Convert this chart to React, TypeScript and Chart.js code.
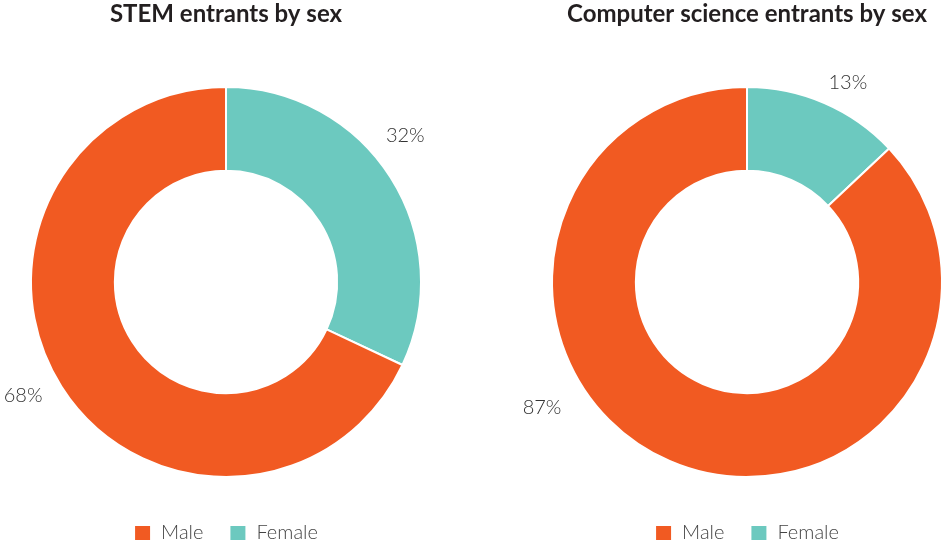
import React, { useEffect, useRef } from "react";
import { Chart, registerables } from "chart.js";

Chart.register(...registerables);

const categories = ["Female", "Male"];
const stemValues = [32, 68];
const csValues = [13, 87];
const titles = ["STEM entrants by sex", "Computer science entrants by sex"];

const COLORS = ["#6CC9BF", "#F15A22"];
const FONT = "Lato, 'Open Sans', 'DejaVu Sans', sans-serif";

const pctLabelPlugin = {
  id: "pctLabels",
  afterDatasetsDraw(chart: any, _args: any, opts: any) {
    const meta = chart.getDatasetMeta(0);
    const data = chart.data.datasets[0].data as number[];
    const total = data.reduce((a, b) => a + b, 0);
    const ctx = chart.ctx;
    ctx.save();
    const size = opts.size || 20;
    ctx.font = `300 ${size}px ${FONT}`;
    ctx.fillStyle = opts.color || "#333";
    ctx.textAlign = "center";
    ctx.textBaseline = "alphabetic";
    meta.data.forEach((arc: any, i: number) => {
      const ang = (opts.angles[i] * Math.PI) / 180;
      const r = opts.radii[i];
      const x = arc.x + Math.cos(ang) * r;
      const y = arc.y + Math.sin(ang) * r + size * 0.37;
      ctx.fillText(Math.round((data[i] / total) * 100) + "%", x, y);
    });
    ctx.restore();
  },
};

function Donut({ title, values, left, angles, radii }: any) {
  const ref = useRef<HTMLCanvasElement>(null);
  useEffect(() => {
    if (!ref.current) return;
    const chart = new Chart(ref.current, {
      type: "doughnut",
      data: {
        labels: categories,
        datasets: [
          {
            data: values,
            backgroundColor: COLORS,
            borderColor: "#ffffff",
            borderWidth: 2,
            radius: 195,
            cutout: "57%",
          } as any,
        ],
      },
      options: {
        animation: false,
        responsive: true,
        maintainAspectRatio: false,
        layout: { padding: 0 },
        plugins: {
          tooltip: { enabled: false },
          title: {
            display: true,
            text: title,
            color: "#231F20",
            font: { family: FONT, size: 24, weight: "bold" },
            padding: { top: 0, bottom: 38.2 },
          },
          legend: {
            display: true,
            position: "bottom",
            reverse: true,
            labels: {
              color: "#444",
              boxWidth: 17,
              boxHeight: 16,
              padding: 26,
              font: { family: FONT, size: 20, weight: "300" },
            },
          },
          pctLabels: { angles, radii, size: 20, color: "#333" },
        } as any,
      },
      plugins: [pctLabelPlugin],
    });
    return () => chart.destroy();
  }, []);
  return (
    <div
      style={{
        position: "absolute",
        left,
        top: 0,
        width: 460,
        height: 553,
      }}
    >
      <canvas ref={ref} />
    </div>
  );
}

export default function App() {
  return (
    <div
      style={{
        position: "fixed",
        left: 0,
        top: 0,
        width: 941,
        height: 545,
        overflow: "hidden",
        background: "#fff",
      }}
    >
      <Donut
        title={titles[0]}
        values={stemValues}
        left={-4}
        angles={[-39.4, 151]}
        radii={[232, 232]}
      />
      <Donut
        title={titles[1]}
        values={csValues}
        left={517}
        angles={[-63.3, 148.8]}
        radii={[224.5, 239.6]}
      />
    </div>
  );
}
